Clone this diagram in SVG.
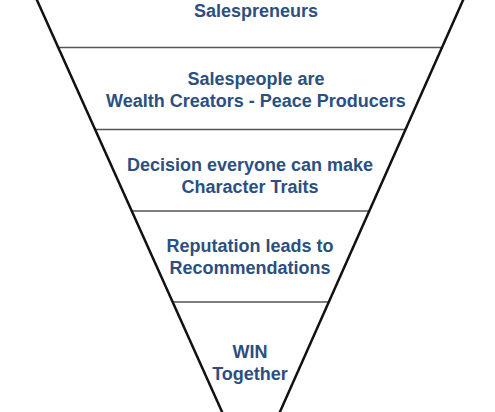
<svg xmlns="http://www.w3.org/2000/svg" width="495" height="412" viewBox="0 0 495 412">
<style>
.t{font-family:"Liberation Sans",Arial,sans-serif;font-weight:bold;font-size:18px;fill:#2b4f80;text-anchor:middle}
.div{stroke:#555;stroke-width:1.5}
.side{stroke:#111;stroke-width:2.5}
</style>
<rect width="495" height="412" fill="#fff"/>
<g id="connectors">
<line class="div" x1="57" y1="47.5" x2="443" y2="47.5"/>
<line class="div" x1="94" y1="129.5" x2="406" y2="129.5"/>
<line class="div" x1="131" y1="211" x2="370" y2="211"/>
<line class="div" x1="172" y1="302" x2="329" y2="302"/>
<line class="side" x1="36" y1="-2" x2="223" y2="414"/>
<line class="side" x1="464" y1="-2" x2="279" y2="414"/>
</g>
<g id="level1"><text class="t" x="256" y="17">Salespreneurs</text></g>
<g id="level2"><text class="t" x="256" y="85">Salespeople are</text><text class="t" x="256" y="107">Wealth Creators - Peace Producers</text></g>
<g id="level3"><text class="t" x="250" y="171">Decision everyone can make</text><text class="t" x="250" y="193">Character Traits</text></g>
<g id="level4"><text class="t" x="250" y="252">Reputation leads to</text><text class="t" x="250" y="274">Recommendations</text></g>
<g id="level5"><text class="t" x="250" y="358">WIN</text><text class="t" x="250" y="380">Together</text></g>
</svg>
